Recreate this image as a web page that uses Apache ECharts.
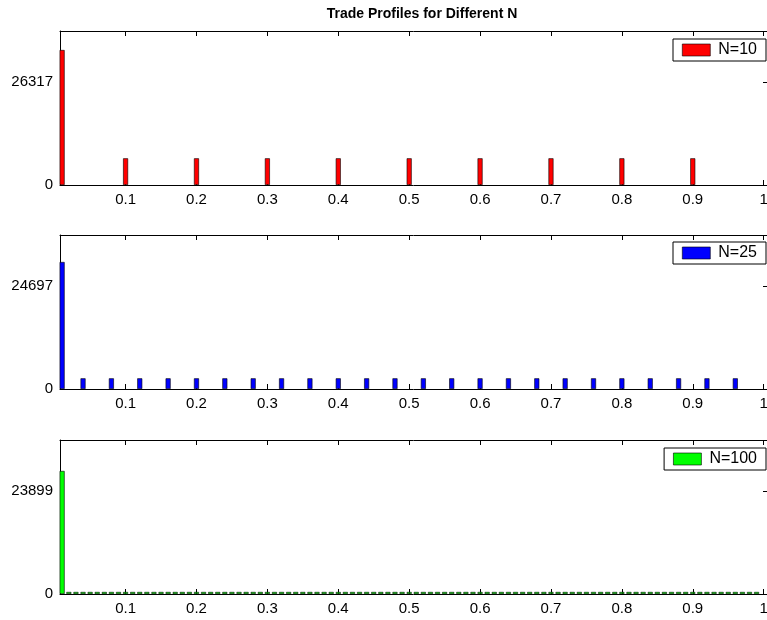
<!DOCTYPE html>
<html>
<head>
<meta charset="utf-8">
<script src="https://cdn.jsdelivr.net/npm/echarts@6/dist/echarts.min.js"></script>
<style>html,body{margin:0;padding:0;background:#fff}#c{width:767px;height:620px}</style>
</head>
<body>
<div id="c"></div>
<script>
const titleText = 'Trade Profiles for Different N';
const xTickValues = [0.1, 0.2, 0.3, 0.4, 0.5, 0.6, 0.7, 0.8, 0.9, 1];
const xTickLabels = ['0.1', '0.2', '0.3', '0.4', '0.5', '0.6', '0.7', '0.8', '0.9', '1'];
const seriesNames = ['N=10', 'N=25', 'N=100'];
const seriesColors = ['#ff0000', '#0000ff', '#00ff00'];
const yTickValues = [26317, 24697, 23899];

const x10 = [0.0105, 0.1, 0.2, 0.3, 0.4, 0.5, 0.6, 0.7, 0.8, 0.9];
const y10 = [34600, 6840, 6840, 6840, 6840, 6840, 6840, 6840, 6840, 6840];

const x25 = [0.0105, 0.04, 0.08, 0.12, 0.16, 0.20, 0.24, 0.28, 0.32, 0.36, 0.40, 0.44, 0.48,
  0.52, 0.56, 0.60, 0.64, 0.68, 0.72, 0.76, 0.80, 0.84, 0.88, 0.92, 0.96];
const y25 = [30550, 2566, 2566, 2566, 2566, 2566, 2566, 2566, 2566, 2566, 2566, 2566, 2566,
  2566, 2566, 2566, 2566, 2566, 2566, 2566, 2566, 2566, 2566, 2566, 2566];

const x100 = [0.0105, 0.02, 0.03, 0.04, 0.05, 0.06, 0.07, 0.08, 0.09, 0.10,
  0.11, 0.12, 0.13, 0.14, 0.15, 0.16, 0.17, 0.18, 0.19, 0.20,
  0.21, 0.22, 0.23, 0.24, 0.25, 0.26, 0.27, 0.28, 0.29, 0.30,
  0.31, 0.32, 0.33, 0.34, 0.35, 0.36, 0.37, 0.38, 0.39, 0.40,
  0.41, 0.42, 0.43, 0.44, 0.45, 0.46, 0.47, 0.48, 0.49, 0.50,
  0.51, 0.52, 0.53, 0.54, 0.55, 0.56, 0.57, 0.58, 0.59, 0.60,
  0.61, 0.62, 0.63, 0.64, 0.65, 0.66, 0.67, 0.68, 0.69, 0.70,
  0.71, 0.72, 0.73, 0.74, 0.75, 0.76, 0.77, 0.78, 0.79, 0.80,
  0.81, 0.82, 0.83, 0.84, 0.85, 0.86, 0.87, 0.88, 0.89, 0.90,
  0.91, 0.92, 0.93, 0.94, 0.95, 0.96, 0.97, 0.98, 0.99];
const y100 = [28640, 470, 470, 470, 470, 470, 470, 470, 470, 470,
  470, 470, 470, 470, 470, 470, 470, 470, 470, 470,
  470, 470, 470, 470, 470, 470, 470, 470, 470, 470,
  470, 470, 470, 470, 470, 470, 470, 470, 470, 470,
  470, 470, 470, 470, 470, 470, 470, 470, 470, 470,
  470, 470, 470, 470, 470, 470, 470, 470, 470, 470,
  470, 470, 470, 470, 470, 470, 470, 470, 470, 470,
  470, 470, 470, 470, 470, 470, 470, 470, 470, 470,
  470, 470, 470, 470, 470, 470, 470, 470, 470, 470,
  470, 470, 470, 470, 470, 470, 470, 470, 470];

const panelX = [x10, x25, x100];
const panelY = [y10, y25, y100];

const FONT = '"Liberation Sans", Arial, Helvetica, sans-serif';
const gridTops = [31, 235, 440];
const gridH = 154;
const xMin = 0.0075, xMax = 1.0047;
const legendTops = [39, 242, 448];

const grids = [], xAxes = [], yAxes = [], series = [], legends = [];
for (let i = 0; i < 3; i++) {
  grids.push({ left: 60, right: 0, top: gridTops[i], height: gridH, show: false,
    containLabel: false, outerBoundsMode: 'none' });
  const axisLine = { show: true, onZero: false, lineStyle: { color: '#000', width: 1 } };
  xAxes.push({
    type: 'value', gridIndex: i, position: 'bottom', min: xMin, max: xMax,
    axisLine: axisLine, splitLine: { show: false },
    axisTick: { show: true, inside: true, length: 5, customValues: xTickValues, lineStyle: { color: '#000' } },
    axisLabel: { show: true, customValues: xTickValues, color: '#000', fontFamily: FONT, fontSize: 15, margin: 7,
      hideOverlap: false,
      formatter: v => xTickLabels[xTickValues.indexOf(Math.round(v * 10) / 10)] }
  });
  xAxes.push({
    type: 'value', gridIndex: i, position: 'top', min: xMin, max: xMax,
    axisLine: axisLine, splitLine: { show: false },
    axisTick: { show: true, inside: true, length: 5, customValues: xTickValues, lineStyle: { color: '#000' } },
    axisLabel: { show: false }
  });
  const yt = [0, yTickValues[i]];
  yAxes.push({
    type: 'value', gridIndex: i, position: 'left', min: 0, max: yTickValues[i] * 1.5,
    axisLine: axisLine, splitLine: { show: false },
    axisTick: { show: true, inside: true, length: 4, customValues: yt, lineStyle: { color: '#000' } },
    axisLabel: { show: true, customValues: yt, color: '#000', fontFamily: FONT, fontSize: 15, margin: 7,
      formatter: v => String(Math.round(v)) }
  });
  yAxes.push({
    type: 'value', gridIndex: i, position: 'right', min: 0, max: yTickValues[i] * 1.5,
    axisLine: { show: false, onZero: false }, splitLine: { show: false },
    axisTick: { show: true, inside: true, length: 4, customValues: [yTickValues[i]], lineStyle: { color: '#000' } },
    axisLabel: { show: false }
  });
  const data = panelX[i].map((x, k) => [x, panelY[i][k]]);
  series.push({
    type: 'bar', name: seriesNames[i], xAxisIndex: i * 2, yAxisIndex: i * 2,
    data: data, barWidth: 5, clip: true,
    itemStyle: { color: seriesColors[i], borderColor: '#000', borderWidth: 0.6 },
    emphasis: { disabled: true }, animation: false
  });
  legends.push({
    data: [seriesNames[i]], right: 1, top: legendTops[i],
    orient: 'horizontal', backgroundColor: '#fff', borderColor: '#000', borderWidth: 1,
    padding: [3, 9, 3, 9], itemWidth: 28, itemHeight: 12, itemGap: 6,
    icon: 'rect', selectedMode: false,
    itemStyle: { borderWidth: 0.6, borderColor: '#000' },
    textStyle: { color: '#000', fontFamily: FONT, fontSize: 16, padding: [0, 0, 0, 3] }
  });
}

const chart = echarts.init(document.getElementById('c'), null, { renderer: 'canvas' });
chart.setOption({
  animation: false,
  backgroundColor: '#fff',
  title: { text: titleText, left: 417, top: 2, textAlign: 'center',
    textStyle: { fontFamily: FONT, fontSize: 14, fontWeight: 'bold', color: '#000' } },
  grid: grids, xAxis: xAxes, yAxis: yAxes, series: series, legend: legends
});
</script>
</body>
</html>
